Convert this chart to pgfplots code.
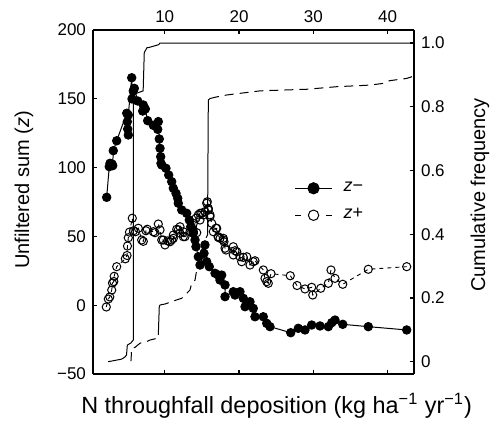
\documentclass[border=0pt]{standalone}
\usepackage{fontspec}
\setmainfont{Liberation Sans}
\usepackage{pgfplots}
\pgfplotsset{compat=1.18}
\begin{document}
\begin{tikzpicture}
\path[use as bounding box] (-46.5pt,-23.5pt) rectangle (205pt,187pt);
% right axis: cumulative frequency
\begin{axis}[
  scale only axis, width=160.5pt, height=172pt,
  at={(0pt,0pt)}, anchor=south west,
  xmin=0.35, xmax=43.55, ymin=-0.0386, ymax=1.041,
  hide x axis,
  axis y line*=right,
  ytick={0,0.2,0.4,0.6,0.8,1.0},
  yticklabels={0,0.2,0.4,0.6,0.8,1.0},
  tick align=inside, major tick length=2.2pt,
  tick style={line width=0.6pt, black},
  axis line style={line width=0.7pt},
  yticklabel style={font=\fontsize{8.5}{10}\selectfont},
  ylabel={Cumulative frequency},
  ylabel style={at={(axis description cs:1.2056,0.52)}, anchor=center, rotate=0, font=\fontsize{10}{12}\selectfont},
]
\addplot[black, line width=0.5pt, no marks] coordinates {
(2.4,0.0) (4.2,0.008) (4.66,0.015) (4.86,0.021) (4.97,0.052) (5.46,0.059) (5.77,0.068)
(5.77,0.83) (5.95,0.84) (7.1,0.85) (7.25,0.97) (7.6,0.985) (8.02,0.987) (9.2,0.995) (9.35,1.0) (43.55,1.0)};
\addplot[black, line width=0.5pt, no marks, dash pattern=on 4.5pt off 3pt] coordinates {
(5.46,0.002) (5.56,0.042) (6.0,0.045) (6.68,0.058) (7.58,0.063) (8.02,0.068) (8.92,0.073) (9.14,0.084)};
\addplot[black, line width=0.5pt, no marks] coordinates {
(9.14,0.084) (9.27,0.173) (9.37,0.178)};
\addplot[black, line width=0.5pt, no marks, dash pattern=on 4.5pt off 3pt] coordinates {
(9.37,0.178) (10.04,0.181) (11.62,0.194) (12.29,0.199) (12.73,0.209) (13.4,0.225) (13.63,0.246)
(14.08,0.256) (14.31,0.288) (14.52,0.309) (14.75,0.340) (14.98,0.350) (15.42,0.382) (15.76,0.398)};
\addplot[black, line width=0.5pt, no marks] coordinates {
(15.76,0.398) (15.87,0.821) (16.1,0.826)};
\addplot[black, line width=0.5pt, no marks, dash pattern=on 4.5pt off 3pt] coordinates {
(16.1,0.826) (17.0,0.831) (18.34,0.837) (22.83,0.850) (29.11,0.855) (33.15,0.863) (37.6,0.868)
(39.62,0.874) (40.29,0.882) (42.57,0.889) (43.46,0.896)};
\end{axis}
% left axis: unfiltered sum
\begin{axis}[
  scale only axis, width=160.5pt, height=172pt,
  at={(0pt,0pt)}, anchor=south west,
  xmin=0.35, xmax=43.55, ymin=-50, ymax=200,
  axis y line*=left,
  xtick={10,20,30,40}, xticklabels={10,20,30,40},
  xtick pos=both, xticklabel pos=right,
  ytick={-50,0,50,100,150,200}, yticklabels={−50,0,50,100,150,200},
  tick align=inside, major tick length=2.2pt,
  tick style={line width=0.6pt, black},
  axis line style={line width=0.7pt},
  ticklabel style={font=\fontsize{8.5}{10}\selectfont},
  xlabel={N throughfall deposition (kg ha\textsuperscript{−1} yr\textsuperscript{−1})},
  xlabel style={at={(axis description cs:0.572,-0.1134)}, anchor=base, font=\fontsize{11.7}{14}\selectfont},
  ylabel={Unfiltered sum (\textit{z})},
  ylabel style={at={(axis description cs:-0.215,0.535)}, anchor=center, font=\fontsize{10}{12}\selectfont},
  legend style={at={(axis description cs:0.608,0.5)}, anchor=west, draw=none, fill=none,
    font=\fontsize{9}{11}\selectfont, row sep=3pt},
  legend cell align=left,
]
\addplot[black, line width=0.45pt, dash pattern=on 2pt off 2pt, mark=o, mark size=2.05pt,
  mark options={solid, fill=white, line width=0.5pt},
  forget plot] coordinates {
(2.14,-1.3) (2.41,4.5) (2.61,6.0) (2.87,11.0) (2.97,16.1) (3.15,17.2) (3.2,21.0) (3.54,28.0)
(4.7,33.7) (4.93,36.1) (4.99,43.0) (5.1,49.0) (5.26,53.1) (5.64,63.2) (5.8,54.1) (6.07,53.4)
(6.45,55.9) (6.9,47.4) (7.12,46.4) (7.48,54.1) (7.66,55.2) (8.47,53.4) (8.69,52.7) (9.14,59.0)
(9.37,54.7) (9.6,47.4) (9.81,47.4) (10.04,43.8) (10.4,46.7) (10.71,46.1) (10.94,47.4) (11.16,48.6)
(11.16,51.0) (11.62,55.2) (11.83,54.7) (12.06,57.0) (12.06,52.3) (12.5,53.4) (12.5,49.8) (12.73,49.8)
(13.4,53.4) (13.63,55.9) (13.85,59.5) (13.85,53.4) (14.21,63.2) (14.31,52.7) (14.52,65.6) (14.75,61.9)
(14.75,66.8) (14.98,66.8) (15.2,65.6) (15.42,68.0) (15.65,74.1) (15.73,75.2) (15.87,70.4) (15.87,69.2)
(16.1,65.6) (16.1,64.3) (16.33,59.5) (16.54,53.4) (16.9,55.9) (17.0,55.9) (17.21,49.8) (17.21,49.3)
(17.44,48.6) (17.89,48.6) (17.89,47.4) (17.98,46.1) (18.12,41.4) (18.25,40.1) (19.23,42.5) (19.23,36.5)
(19.46,39.6) (19.69,38.9) (20.13,35.2) (20.36,31.6) (20.58,34.8) (21.04,35.2) (21.48,29.2) (21.92,31.6)
(22.15,32.3) (23.27,25.6) (23.5,19.5) (23.73,17.1) (23.94,15.9) (24.31,22.9) (26.9,21.4) (27.81,14.3)
(28.88,11.8) (29.78,13.0) (29.92,7.4) (31.0,12.3) (32.02,15.9) (32.38,25.6) (32.92,19.5) (33.96,15.2)
(37.4,26.1) (42.57,28.0)};
\addplot[black, line width=0.5pt, mark=*, mark size=2.1pt, forget plot] coordinates {
(2.19,78.4) (2.54,100.7) (2.64,103.1) (2.91,102.6) (3.0,101.4) (3.08,112.3) (3.54,119.5)
(4.89,139.5) (4.97,133.4) (5.02,128) (5.1,123.7) (5.1,138.2) (5.56,165.3) (5.6,149.9) (5.77,155.7)
(5.91,157.6) (6.37,148.4) (7.04,141.1) (7.12,145.5) (7.39,142.6) (7.71,134.1) (8.47,130.7)
(9.06,127.8) (9.14,133.4) (9.27,120.8) (9.37,114) (9.46,107.9) (9.5,103.1) (9.6,101.9)
(10.17,99.5) (10.54,94.6) (10.94,89.8) (11.16,85) (11.52,81.3) (11.75,77.7) (11.83,74.1)
(12.29,69.2) (12.96,66.8) (13.31,61.9) (13.5,57) (13.85,52.3) (14.08,47.4) (14.21,42.5)
(14.52,35.2) (14.75,29.2) (15.29,37.7) (15.42,43.8) (15.65,31.6) (16.0,28) (16.77,23.2)
(17.21,21.9) (17.44,18.3) (17.67,21.9) (18.12,14.7) (18.12,6.2) (19.23,9.8) (19.46,7.4)
(20.13,9.8) (20.58,5.0) (20.81,-1.1) (21.48,2.5) (21.92,-2.3) (22.15,-8.4) (23.27,-8.4)
(23.73,-13.2) (24.17,-15.6) (26.96,-20) (27.98,-16.8) (28.88,-18) (29.78,-14.4) (30.9,-15.1)
(32.02,-15.6) (32.48,-12.7) (32.92,-10.8) (33.96,-13.9) (37.4,-15.6) (42.57,-18)};
% legend entries (no visible data)
\addlegendimage{black, line width=0.5pt, mark=*, mark size=2.8pt,
  legend image code/.code={\draw[mark repeat=2,mark phase=2] plot coordinates {(0pt,0pt) (9.25pt,0pt) (18.5pt,0pt)};}}
\addlegendentry{\hspace{3.5pt}\textit{z}−}
\addlegendimage{black, line width=0.5pt, mark=o, mark size=2.6pt, mark options={fill=white},
  legend image code/.code={\draw (0pt,0pt)--(3pt,0pt); \draw (15.5pt,0pt)--(18.5pt,0pt); \draw plot coordinates {(9.25pt,0pt)};}}
\addlegendentry{\hspace{3.5pt}\textit{z}+}
\end{axis}
\end{tikzpicture}
\end{document}
